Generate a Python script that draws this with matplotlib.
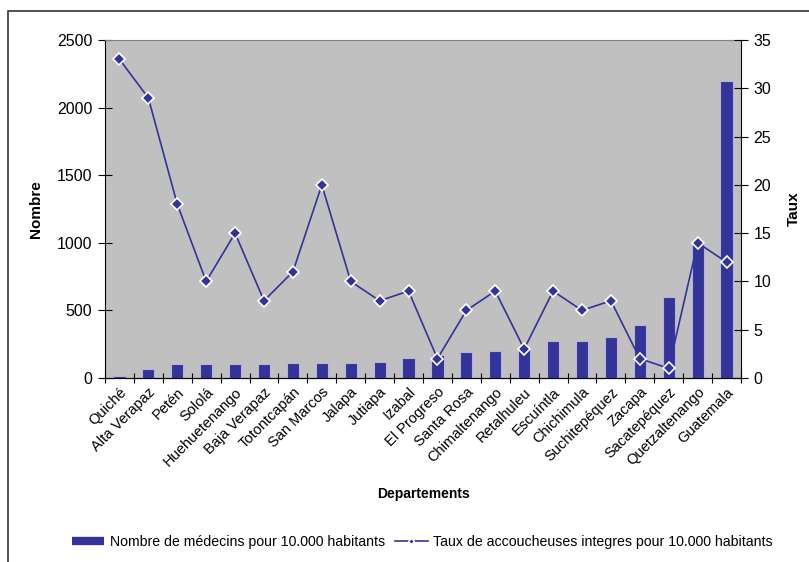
import numpy as np
import matplotlib.pyplot as plt
from matplotlib.patches import Rectangle
from matplotlib.lines import Line2D

plt.rcParams['font.family'] = ['Liberation Sans', 'DejaVu Sans']

departements = ['Quiché', 'Alta Verapaz', 'Petén', 'Sololá', 'Huehuetenango',
                'Baja Verapaz', 'Totontcapán', 'San Marcos', 'Jalapa', 'Jutiapa',
                'Izabal', 'El Progreso', 'Santa Rosa', 'Chimaltenango', 'Retalhuleu',
                'Escuíntla', 'Chichimula', 'Suchitepéquez', 'Zacapa', 'Sacatepéquez',
                'Quetzaltenango', 'Guatemala']
medecins = [15, 65, 100, 100, 100, 100, 110, 110, 110, 120, 150, 170, 190, 200,
            220, 270, 270, 300, 390, 600, 1000, 2200]
accoucheuses = [33, 29, 18, 10, 15, 8, 11, 20, 10, 8, 9, 2, 7, 9, 3, 9, 7, 8, 2, 1, 14, 12]

navy = '#333399'

fig = plt.figure(figsize=(8.09, 5.62), dpi=100)
ax = fig.add_axes([105 / 809, 1 - 378 / 562, 636 / 809, 338 / 562])
ax.set_facecolor('#c0c0c0')

x = np.arange(len(departements))
ax.bar(x, medecins, width=0.42, color=navy, edgecolor='#b4b4e0', linewidth=0.8, zorder=2)
ax.set_xlim(-0.5, len(departements) - 0.5)
ax.set_ylim(0, 2500)
ax.set_yticks(np.arange(0, 2501, 500))
ax.set_xticks(np.arange(-0.5, len(departements), 1.0), minor=False)
ax.set_xticklabels([])
ax.set_xticks(x, minor=True)
ax.set_xticklabels(departements, minor=True, rotation=45, ha='right',
                   rotation_mode='anchor', fontsize=10.5)
ax.tick_params(axis='x', which='minor', length=0, pad=5)
ax.tick_params(axis='x', which='major', direction='inout', length=7, width=0.8)
ax.tick_params(axis='y', direction='inout', length=10, width=0.8, labelsize=11.5, pad=4)
ax.spines['top'].set_color('#808080')
ax.spines['right'].set_visible(False)
ax.set_ylabel('Nombre', fontsize=11, fontweight='bold', va='center')
ax.yaxis.set_label_coords(-0.108, 0.5)
ax.set_xlabel('Departements', fontsize=10, fontweight='bold', va='center')
ax.xaxis.set_label_coords(0.5, -0.343)

ax2 = ax.twinx()
ax2.plot(x, accoucheuses, color=navy, linewidth=1.2, marker='D', markersize=6,
         markerfacecolor=navy, markeredgecolor='white', markeredgewidth=1.2)
ax2.set_ylim(0, 35)
ax2.set_yticks(np.arange(0, 36, 5))
ax2.tick_params(axis='y', direction='inout', length=10, width=0.8, labelsize=11.5, pad=4)
ax2.spines['top'].set_visible(False)
ax2.spines['left'].set_visible(False)
ax2.set_ylabel('Taux', fontsize=11, fontweight='bold', va='center')
ax2.yaxis.set_label_coords(1.0825, 0.5)

# chart frame, running off the right and bottom edges
fig.patches.append(Rectangle((8 / 809, -0.02), 1.05, 1 - 11 / 562 + 0.02,
                             transform=fig.transFigure, fill=False,
                             edgecolor='#333333', linewidth=1.2))

handles = [Line2D([], [], color=navy, linewidth=6, solid_capstyle='butt'),
           Line2D([], [], color=navy, linewidth=1.2, marker='D', markersize=3,
                  markerfacecolor=navy, markeredgecolor='white')]
fig.legend(handles, ['Nombre de médecins pour 10.000 habitants',
                     'Taux de accoucheuses integres pour 10.000 habitants'],
           loc='center', bbox_to_anchor=(0.522, 1 - 542 / 562), ncol=2,
           frameon=False, fontsize=10.2, handlelength=2.3, handletextpad=0.4,
           columnspacing=0.7)

fig.savefig('out.png', dpi=100)
